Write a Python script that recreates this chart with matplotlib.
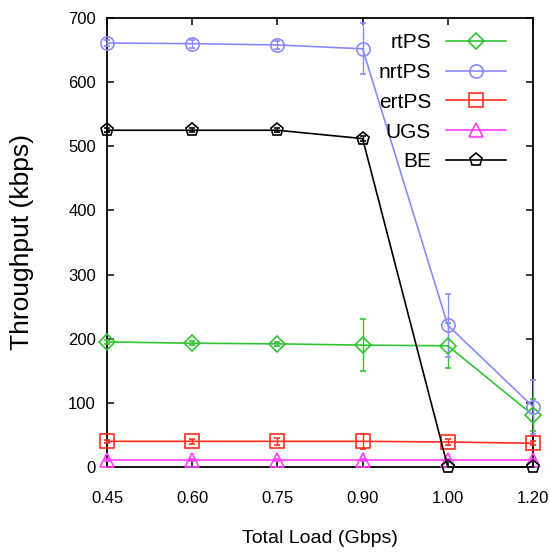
import matplotlib
matplotlib.use('Agg')
import matplotlib.pyplot as plt
from matplotlib.lines import Line2D
import numpy as np

plt.rcParams['font.family'] = ['Liberation Sans', 'DejaVu Sans']

# Total load categories (equally spaced on the x axis)
loads = ['0.45', '0.60', '0.75', '0.90', '1.00', '1.20']

# Throughput (kbps) per service class, with error bar half-widths
rtps = [195, 193, 192, 190, 189, 81]
rtps_err = [3, 3, 3, 41, 35, 25]
nrtps = [661, 660, 658, 652, 221, 94]
nrtps_err = [5, 6, 6, 40, 49, 42]
ertps = [40, 40, 40, 40, 39, 37]
ertps_err = [2, 4, 5, 12, 5, 3]
ugs = [11, 11, 11, 11, 11, 11]
ugs_err = [1, 1, 1, 2, 1, 1]
be = [525, 525, 525, 512, 0, 0]
be_err = [3, 3, 3, 4, 0, 0]

series = [
    ('rtPS', rtps, rtps_err, '#33c433', 'D'),
    ('nrtPS', nrtps, nrtps_err, '#8a8aff', 'o'),
    ('ertPS', ertps, ertps_err, '#ff2e1f', 's'),
    ('UGS', ugs, ugs_err, '#ff3dff', '^'),
    ('BE', be, be_err, 'black', 'p'),
]

fig = plt.figure(figsize=(5.5, 5.58), dpi=100)
ax = fig.add_axes([107 / 550, 1 - 467 / 558, 426 / 550, 449 / 558])

x = np.arange(len(loads))
handles = []
for name, vals, err, col, mk in series:
    ms = 8 if mk == 'D' else 9.5
    style = dict(color=col, marker=mk, markersize=ms, markerfacecolor='none',
                 markeredgewidth=1.2, linewidth=1.2)
    ax.errorbar(x, vals, yerr=err, elinewidth=1.0, capsize=2.5,
                clip_on=False, zorder=3, **style)
    # legend sample without error bars, like the original
    handles.append(Line2D([], [], label=name, **style))

ax.set_xlim(0, len(loads) - 1)
ax.set_ylim(0, 700)
ax.set_xticks(x)
ax.set_xticklabels(loads)
ax.set_yticks(range(0, 701, 100))

ax.tick_params(direction='in', length=5, width=1.1, top=True, right=True, labelsize=12)
ax.tick_params(axis='x', pad=17)
ax.tick_params(axis='y', pad=8)
for s in ax.spines.values():
    s.set_linewidth(1.3)

ax.set_xlabel('Total Load (Gbps)', fontsize=14)
ax.set_ylabel('Throughput (kbps)', fontsize=19)
ax.xaxis.set_label_coords(0.5, -0.14)
ax.yaxis.set_label_coords(-0.172, 0.5)

leg = ax.legend(handles=handles, loc='upper right', bbox_to_anchor=(506 / 550, 1 - 33 / 558),
                bbox_transform=fig.transFigure, frameon=False, markerfirst=False,
                fontsize=15, handlelength=2.9, handletextpad=0.7, labelspacing=0.52,
                borderpad=0, borderaxespad=0)

fig.savefig('out.png', dpi=100)
